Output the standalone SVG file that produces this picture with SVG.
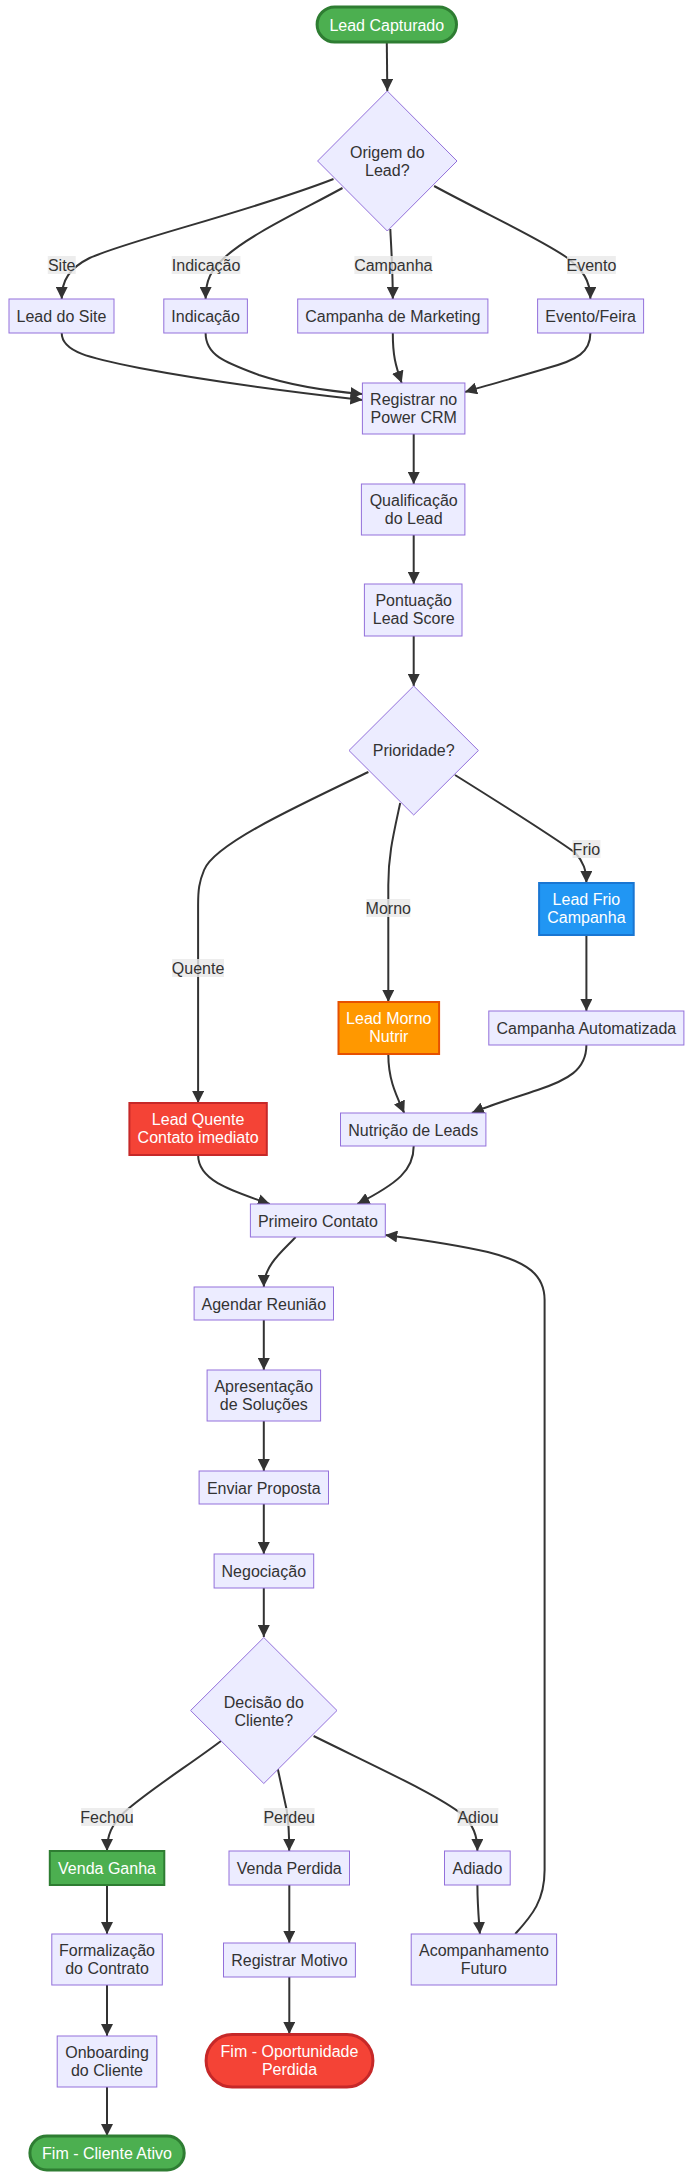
<svg xmlns="http://www.w3.org/2000/svg" width="692" height="2178" viewBox="0 0 692 2178">
<style>
text{font-family:"Liberation Sans",Arial,sans-serif;font-size:16px;fill:#333;text-anchor:middle}
.n{fill:#ECECFF;stroke:#9370DB;stroke-width:1}
.w{fill:#fff}
.g{fill:#4CAF50;stroke:#2E7D32;stroke-width:2}
.gt{fill:#4CAF50;stroke:#2E7D32;stroke-width:3}
.r{fill:#F44336;stroke:#C62828;stroke-width:2}
.rt{fill:#F44336;stroke:#C62828;stroke-width:3}
.o{fill:#FF9800;stroke:#E65100;stroke-width:2}
.b{fill:#2196F3;stroke:#1976D2;stroke-width:2}
.e{fill:none;stroke:#333;stroke-width:2;marker-end:url(#arr)}
.lb{fill:#e8e8e8;fill-opacity:0.8}
</style>
<defs>
<marker id="arr" viewBox="0 0 10 10" refX="10" refY="5" markerUnits="userSpaceOnUse" markerWidth="12" markerHeight="12" orient="auto">
<path d="M0,0 L10,5 L0,10 z" fill="#333"/>
</marker>
</defs>
<g id="edges">
<path class="e" d="M386.8,42 L387.3,91"/>
<path class="e" d="M333.5,179 C248.9,212 129.4,240 89.6,258 C69.7,268 61.7,280 61.7,299"/>
<path class="e" d="M342.5,188 C298.7,212 248.9,235 224,258 C211.1,270 205.6,280 205.6,299"/>
<path class="e" d="M390.3,229 C391.3,250 392.8,270 392.8,299"/>
<path class="e" d="M434.1,186 C487.8,215 542.6,240 567.5,258 C582.4,270 590.4,280 590.4,299"/>
<path class="e" d="M61.7,333 C61.7,352 89.6,358 139.4,368 C229,385 318.6,395 362.4,400"/>
<path class="e" d="M205.6,333 C205.6,355 224,362 258.9,375 C298.7,388 338.5,392 362.4,394"/>
<path class="e" d="M392.8,333 C392.8,355 395.3,365 401.7,383"/>
<path class="e" d="M590.4,333 C590.4,352 577.4,360 547.6,368 C517.7,377 487.8,385 465,392"/>
<path class="e" d="M413.7,434 L413.7,484"/>
<path class="e" d="M413.7,535 L413.7,584"/>
<path class="e" d="M413.7,636 L413.7,686"/>
<path class="e" d="M368.4,772 C288.7,810 214,845 204.1,870 C199.1,882 198.1,890 198.1,905 L198.1,1103"/>
<path class="e" d="M400.2,803 C393.3,835 388.3,855 388.3,885 L388.3,1002"/>
<path class="e" d="M455,775 C507.8,808 557.5,840 575.5,853 C583.4,862 586.4,870 586.4,883"/>
<path class="e" d="M586.4,935 L586.4,1011"/>
<path class="e" d="M388.3,1054 C388.3,1080 396.2,1095 404.2,1113"/>
<path class="e" d="M586.4,1045 C586.4,1070 567.5,1080 537.6,1090 C507.8,1100 487.8,1106 471.9,1113"/>
<path class="e" d="M198.1,1155 C198.1,1180 229,1190 269.8,1204"/>
<path class="e" d="M413.7,1146 C413.7,1170 398.2,1183 357.4,1204"/>
<path class="e" d="M295.7,1237 C283.7,1250 263.8,1265 263.8,1287"/>
<path class="e" d="M263.8,1320 L263.8,1370"/>
<path class="e" d="M263.8,1421 L263.8,1471"/>
<path class="e" d="M263.8,1504 L263.8,1554"/>
<path class="e" d="M263.8,1588 L263.8,1637"/>
<path class="e" d="M221,1741 C189.2,1765 149.3,1790 124.5,1812 C111.5,1825 107,1835 107,1851"/>
<path class="e" d="M277.8,1769 L286.7,1810 C288.7,1822 289.2,1835 289.2,1851"/>
<path class="e" d="M313.6,1736 C378.3,1768 438.1,1795 463,1815 C472.9,1825 477.4,1835 477.4,1851"/>
<path class="e" d="M107,1885 L107,1934"/>
<path class="e" d="M107,1985 L107,2036"/>
<path class="e" d="M107,2087 L107,2136"/>
<path class="e" d="M289.3,1885 L289.3,1943"/>
<path class="e" d="M289.3,1977 L289.3,2034"/>
<path class="e" d="M477.4,1885 C477.4,1905 478.9,1920 479.9,1934"/>
<path class="e" d="M515.2,1934 C532.6,1915 544.6,1900 544.6,1870 L544.6,1300 C544.6,1275 527.7,1262 487.8,1252 C448,1243 408.2,1238 385.3,1235"/>
</g>
<g id="edge-labels">
<rect class="lb" x="47.8" y="256" width="27.9" height="18"/><text x="61.7" y="271">Site</text>
<rect class="lb" x="171.7" y="256" width="68.7" height="18"/><text x="206.1" y="271">Indicação</text>
<rect class="lb" x="354.4" y="256" width="77.7" height="18"/><text x="393.3" y="271">Campanha</text>
<rect class="lb" x="567" y="256" width="48.8" height="18"/><text x="591.4" y="271">Evento</text>
<rect class="lb" x="172.2" y="959" width="51.8" height="18"/><text x="198.1" y="974">Quente</text>
<rect class="lb" x="366.4" y="899" width="43.8" height="18"/><text x="388.3" y="914">Morno</text>
<rect class="lb" x="572.5" y="840" width="27.9" height="18"/><text x="586.4" y="855">Frio</text>
<rect class="lb" x="81.1" y="1808" width="51.8" height="18"/><text x="107" y="1823">Fechou</text>
<rect class="lb" x="263.8" y="1808" width="50.8" height="18"/><text x="289.2" y="1823">Perdeu</text>
<rect class="lb" x="457.5" y="1808" width="40.8" height="18"/><text x="477.9" y="1823">Adiou</text>
</g>
<g id="lead-capturado"><rect class="gt" x="317.1" y="7" width="139.4" height="35" rx="17.5"/><text class="w" x="386.8" y="30.5">Lead Capturado</text></g>
<g id="origem"><polygon class="n" points="387.3,91 457,161 387.3,231 317.6,161"/><text x="387.3" y="158">Origem do</text><text x="387.3" y="176">Lead?</text></g>
<g id="lead-site"><rect class="n" x="9" y="299" width="105" height="34"/><text x="61.5" y="322">Lead do Site</text></g>
<g id="indicacao"><rect class="n" x="163.8" y="299" width="83.6" height="34"/><text x="205.6" y="322">Indicação</text></g>
<g id="campanha-mkt"><rect class="n" x="297.7" y="299" width="190.2" height="34"/><text x="392.8" y="322">Campanha de Marketing</text></g>
<g id="evento-feira"><rect class="n" x="537.6" y="299" width="106" height="34"/><text x="590.6" y="322">Evento/Feira</text></g>
<g id="registrar-crm"><rect class="n" x="362.4" y="383" width="102.5" height="51"/><text x="413.7" y="405">Registrar no</text><text x="413.7" y="423">Power CRM</text></g>
<g id="qualificacao"><rect class="n" x="361.4" y="484" width="103.5" height="51"/><text x="413.7" y="506">Qualificação</text><text x="413.7" y="524">do Lead</text></g>
<g id="pontuacao"><rect class="n" x="364.4" y="584" width="97.6" height="52"/><text x="413.7" y="606">Pontuação</text><text x="413.7" y="624">Lead Score</text></g>
<g id="prioridade"><polygon class="n" points="413.7,686 478.4,750.5 413.7,815 349,750.5"/><text x="413.7" y="756">Prioridade?</text></g>
<g id="lead-frio"><rect class="b" x="539.1" y="883" width="94.6" height="52"/><text class="w" x="586.4" y="905">Lead Frio</text><text class="w" x="586.4" y="923">Campanha</text></g>
<g id="lead-morno"><rect class="o" x="338.5" y="1002" width="100.6" height="52"/><text class="w" x="388.8" y="1024">Lead Morno</text><text class="w" x="388.8" y="1042">Nutrir</text></g>
<g id="campanha-auto"><rect class="n" x="488.8" y="1011" width="195.1" height="34"/><text x="586.4" y="1034">Campanha Automatizada</text></g>
<g id="lead-quente"><rect class="r" x="129.4" y="1103" width="137.4" height="52"/><text class="w" x="198.1" y="1125">Lead Quente</text><text class="w" x="198.1" y="1143">Contato imediato</text></g>
<g id="nutricao"><rect class="n" x="340.5" y="1113" width="145.4" height="33"/><text x="413.2" y="1135.5">Nutrição de Leads</text></g>
<g id="primeiro-contato"><rect class="n" x="250.4" y="1204" width="134.9" height="33"/><text x="317.9" y="1226.5">Primeiro Contato</text></g>
<g id="agendar"><rect class="n" x="194.1" y="1287" width="139.4" height="33"/><text x="263.8" y="1309.5">Agendar Reunião</text></g>
<g id="apresentacao"><rect class="n" x="207.1" y="1370" width="113.5" height="51"/><text x="263.8" y="1392">Apresentação</text><text x="263.8" y="1410">de Soluções</text></g>
<g id="enviar-proposta"><rect class="n" x="199.1" y="1471" width="129.4" height="33"/><text x="263.8" y="1493.5">Enviar Proposta</text></g>
<g id="negociacao"><rect class="n" x="214.1" y="1554" width="99.6" height="34"/><text x="263.8" y="1577">Negociação</text></g>
<g id="decisao"><polygon class="n" points="263.8,1637.5 337,1710.5 263.8,1783.5 190.6,1710.5"/><text x="263.8" y="1707.5">Decisão do</text><text x="263.8" y="1725.5">Cliente?</text></g>
<g id="venda-ganha"><rect class="g" x="49.8" y="1851" width="114.5" height="34"/><text class="w" x="107" y="1874">Venda Ganha</text></g>
<g id="venda-perdida"><rect class="n" x="229" y="1851" width="120.5" height="34"/><text x="289.2" y="1874">Venda Perdida</text></g>
<g id="adiado"><rect class="n" x="444.5" y="1851" width="65.7" height="34"/><text x="477.4" y="1874">Adiado</text></g>
<g id="formalizacao"><rect class="n" x="51.8" y="1934" width="110.5" height="51"/><text x="107" y="1956">Formalização</text><text x="107" y="1974">do Contrato</text></g>
<g id="registrar-motivo"><rect class="n" x="223.5" y="1943" width="131.9" height="34"/><text x="289.5" y="1966">Registrar Motivo</text></g>
<g id="acompanhamento"><rect class="n" x="411.2" y="1934" width="145.4" height="51"/><text x="483.9" y="1956">Acompanhamento</text><text x="483.9" y="1974">Futuro</text></g>
<g id="onboarding"><rect class="n" x="57.2" y="2036" width="99.6" height="51"/><text x="107" y="2058">Onboarding</text><text x="107" y="2076">do Cliente</text></g>
<g id="fim-perdida"><rect class="rt" x="206.1" y="2034.5" width="166.8" height="52.5" rx="26"/><text class="w" x="289.5" y="2057">Fim - Oportunidade</text><text class="w" x="289.5" y="2075">Perdida</text></g>
<g id="fim-ativo"><rect class="gt" x="29.9" y="2136" width="154.3" height="34" rx="17"/><text class="w" x="107" y="2159">Fim - Cliente Ativo</text></g>
</svg>
